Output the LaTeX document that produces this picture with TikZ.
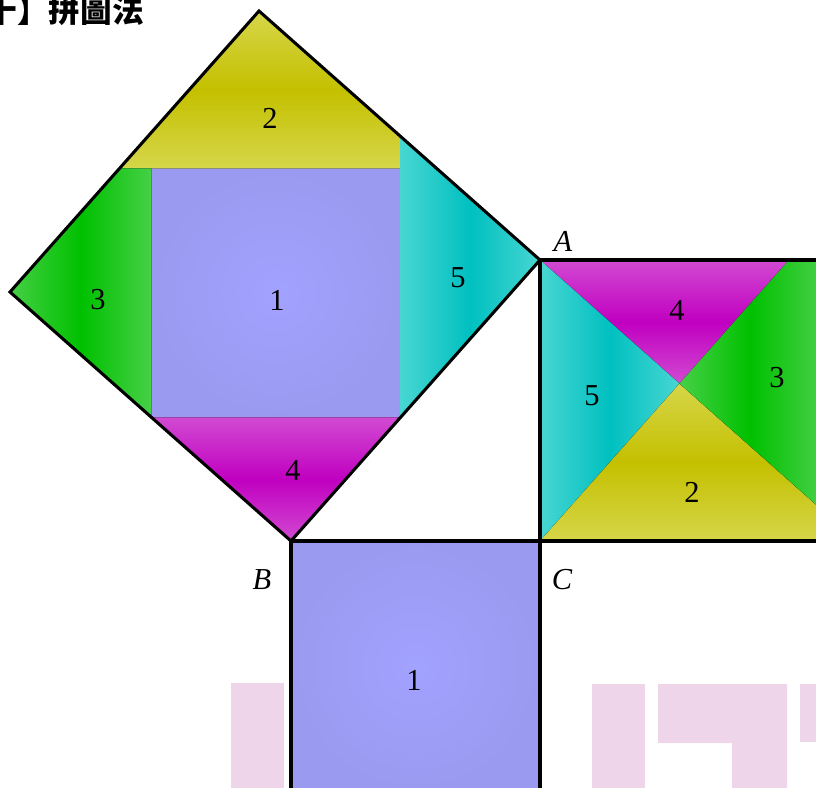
\documentclass[tikz,border=0pt]{standalone}
\usepackage{fontspec}
\setmainfont{Liberation Serif}
\newfontfamily\cjkfont{Noto Sans CJK TC}
\definecolor{yelL}{HTML}{D6D64A}
\definecolor{yelD}{HTML}{C4C000}
\definecolor{magL}{HTML}{D24AD2}
\definecolor{magD}{HTML}{C000C0}
\definecolor{grnL}{HTML}{46D046}
\definecolor{grnD}{HTML}{00C000}
\definecolor{cyaL}{HTML}{48D6D2}
\definecolor{cyaD}{HTML}{00C0C0}
\definecolor{bluL}{HTML}{A2A2FF}
\definecolor{bluD}{HTML}{9A9AF0}
\definecolor{wmark}{HTML}{EFD5EA}
\begin{document}
\begin{tikzpicture}[x=0.03cm,y=-0.03cm,
  lab/.style={font=\fontsize{26}{26}\selectfont},
  vtx/.style={font=\fontsize{26}{26}\selectfont\itshape},
  edge/.style={line width=2.6pt,line join=miter},
  p1/.style={inner color=bluL,outer color=bluD},
  p2/.style={top color=yelL,bottom color=yelL,middle color=yelD},
  p3/.style={left color=grnL,right color=grnL,middle color=grnD},
  p4/.style={top color=magL,bottom color=magL,middle color=magD},
  p5/.style={left color=cyaL,right color=cyaL,middle color=cyaD}]
 \clip (0,0) rectangle (816,787);
 \coordinate (A) at (540,260);
 \coordinate (B) at (291,541);
 \coordinate (C) at (540,541);
 \coordinate (D) at (259,11);
 \coordinate (E) at (10,292);
 \coordinate (P) at (679.5,383.6);
 \coordinate (Q) at (789,260);
 \coordinate (R) at (821,509);
 \coordinate (S) at (821,541);
 \coordinate (U) at (821,260);
 \coordinate (G) at (540,792);
 \coordinate (H) at (291,792);
 \coordinate (F1) at (151.5,168.4);
 \coordinate (F2) at (400.5,168.4);
 \coordinate (F3) at (400.5,417.4);
 \coordinate (F4) at (151.5,417.4);
 \coordinate (F5) at (400.5,136.4);
 \coordinate (F6) at (119.5,168.4);
 \fill[wmark] (231,683) rectangle (284,792);
 \fill[wmark] (592,684) rectangle (645,792);
 \fill[wmark] (658,684) -- (787,684) -- (787,792) -- (732,792) -- (732,743) -- (658,743) -- cycle;
 \fill[wmark] (800,684) rectangle (820,742);
 \fill[p1] (F1) rectangle (F3);
 \fill[p2] (D) -- (F5) -- (F2) -- (F6) -- cycle;
 \fill[p3] (E) -- (F6) -- (F1) -- (F4) -- cycle;
 \fill[p4] (F4) -- (F3) -- (B) -- cycle;
 \fill[p5] (A) -- (F5) -- (F3) -- cycle;
 \fill[p4] (A) -- (Q) -- (P) -- cycle;
 \fill[p5] (A) -- (P) -- (C) -- cycle;
 \fill[p2] (C) -- (P) -- (R) -- (S) -- cycle;
 \fill[p3] (Q) -- (U) -- (R) -- (P) -- cycle;
 \fill[p1] (B) rectangle (G);
 \draw[edge] (B) -- (A) -- (D) -- (E) -- cycle;
 \draw[edge] (A) -- (U) -- (S) -- (C) -- cycle;
 \draw[edge] (H) -- (B) -- (C) -- (G);
 \node[lab] (t1) at (277,300) {1};
 \node[lab] (t2) at (270,118) {2};
 \node[lab] (t3) at (98,300) {3};
 \node[lab] (t4) at (293,470) {4};
 \node[lab] (t5) at (458,278) {5};
 \node[lab] (s4) at (677,310) {4};
 \node[lab] (s5) at (592,396) {5};
 \node[lab] (s3) at (777,378) {3};
 \node[lab] (s2) at (692,492) {2};
 \node[lab] (r1) at (414,680) {1};
 \node[vtx] (nA) at (563,241) {A};
 \node[vtx] (nB) at (262,580) {B};
 \node[vtx] (nC) at (562,580) {C};
 \node[anchor=base east,inner sep=0pt,font=\cjkfont\bfseries\fontsize{27}{27}\selectfont] (title) at (144,23) {十】拼圖法};
\end{tikzpicture}
\end{document}
